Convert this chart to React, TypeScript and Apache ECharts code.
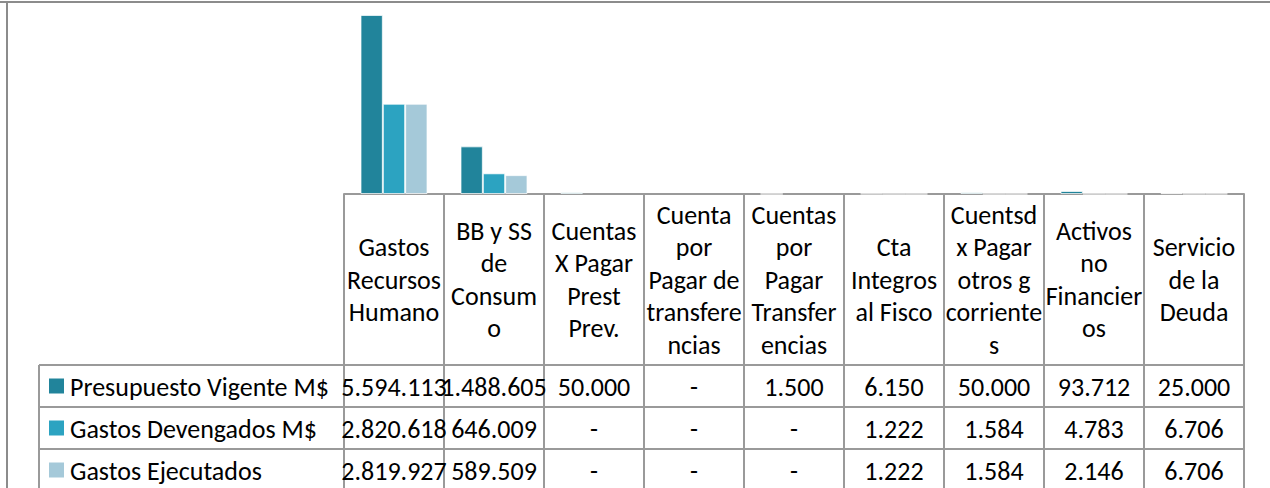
import React, { useEffect, useRef } from "react";
import * as echarts from "echarts";

const categories = [
  "Gastos\nRecursos\nHumano",
  "BB y SS\nde\nConsum\no",
  "Cuentas\nX Pagar\nPrest\nPrev.",
  "Cuenta\npor\nPagar de\ntransfere\nncias",
  "Cuentas\npor\nPagar\nTransfer\nencias",
  "Cta\nIntegros\nal Fisco",
  "Cuentsd\nx Pagar\notros g\ncorriente\ns",
  "Activos\nno\nFinancier\nos",
  "Servicio\nde la\nDeuda",
];

const seriesNames = ["Presupuesto Vigente M$", "Gastos Devengados M$", "Gastos Ejecutados"];

const presupuestoVigente = [5594113, 1488605, 50000, null, 1500, 6150, 50000, 93712, 25000];
const gastosDevengados = [2820618, 646009, null, null, null, 1222, 1584, 4783, 6706];
const gastosEjecutados = [2819927, 589509, null, null, null, 1222, 1584, 2146, 6706];

const seriesColors = ["#21849B", "#2CA3C1", "#A5C9D9"];

const FONT = "Carlito, Calibri, Lato, sans-serif";
const FS = 26;
const W = 1270;
const H = 488;
const GRID_LEFT = 344;
const GRID_RIGHT_X = 1244;
const GRID_TOP = 2;
const AXIS_Y = 194;
const HEADER_BOTTOM = 365;
const ROW_H = 42;
const LEGEND_LEFT = 39;
const LINE_COLOR = "#9a9a9a";

function fmt(v: number | null): string {
  if (v === null || v === undefined) return "-";
  return String(v).replace(/\B(?=(\d{3})+(?!\d))/g, ".");
}

export default function App() {
  const ref = useRef<HTMLDivElement>(null);
  useEffect(() => {
    if (!ref.current) return;
    const chart = echarts.init(ref.current, null, { renderer: "svg" });
    const allData = [presupuestoVigente, gastosDevengados, gastosEjecutados];
    const n = categories.length;
    const colW = (GRID_RIGHT_X - GRID_LEFT) / n;

    const graphics: any[] = [];
    const line = (x1: number, y1: number, x2: number, y2: number, w = 2, c = LINE_COLOR) =>
      graphics.push({
        type: "line",
        shape: { x1, y1, x2, y2 },
        style: { stroke: c, lineWidth: w },
        silent: true,
      });
    // outer border
    line(0, 2, W, 2, 2, "#8c8c8c");
    line(7, 2, 7, H, 2, "#8c8c8c");
    // horizontal table lines
    for (let r = 0; r <= 3; r++) {
      const y = HEADER_BOTTOM + r * ROW_H;
      line(LEGEND_LEFT, y, GRID_RIGHT_X, y);
    }
    // vertical legend column line
    line(LEGEND_LEFT, HEADER_BOTTOM, LEGEND_LEFT, H);
    // category column lines
    for (let i = 0; i <= n; i++) {
      const x = GRID_LEFT + i * colW;
      line(x, AXIS_Y, x, H);
    }
    // legend keys inside the data table
    seriesNames.forEach((name, s) => {
      const cy = HEADER_BOTTOM + s * ROW_H + ROW_H / 2;
      graphics.push({
        type: "rect",
        shape: { x: 49, y: cy - 7.5, width: 15, height: 15 },
        style: { fill: seriesColors[s] },
        silent: true,
      });
      graphics.push({
        type: "text",
        x: 70,
        y: cy + 1,
        silent: true,
        style: {
          text: name,
          fill: "#000",
          font: `${FS}px ${FONT}`,
          textAlign: "left",
          textVerticalAlign: "middle",
        },
      });
    });
    // values
    allData.forEach((arr, s) => {
      arr.forEach((v, i) => {
        graphics.push({
          type: "text",
          x: GRID_LEFT + (i + 0.5) * colW,
          y: HEADER_BOTTOM + s * ROW_H + ROW_H / 2 + 1,
          silent: true,
          style: {
            text: fmt(v),
            fill: "#000",
            font: `${FS}px ${FONT}`,
            textAlign: "center",
            textVerticalAlign: "middle",
          },
        });
      });
    });

    chart.setOption({
      animation: false,
      backgroundColor: "#ffffff",
      grid: {
        left: GRID_LEFT,
        right: W - GRID_RIGHT_X,
        top: GRID_TOP,
        bottom: H - AXIS_Y,
        containLabel: false,
      },
      xAxis: {
        type: "category",
        data: categories,
        axisLine: { show: true, lineStyle: { color: LINE_COLOR, width: 2 } },
        axisTick: { show: false },
        axisLabel: {
          interval: 0,
          margin: (HEADER_BOTTOM - AXIS_Y) / 2,
          verticalAlign: "middle",
          align: "center",
          lineHeight: 32.5,
          fontSize: FS,
          fontFamily: FONT,
          color: "#000",
        },
      },
      yAxis: {
        type: "value",
        min: 0,
        max: 6000000,
        show: false,
        splitLine: { show: false },
      },
      series: allData.map((arr, s) => ({
        name: seriesNames[s],
        type: "bar",
        data: arr,
        barGap: "0%",
        barCategoryGap: "33%",
        itemStyle: {
          color: seriesColors[s],
          borderColor: "rgba(255,255,255,0.7)",
          borderWidth: 1,
        },
      })),
      graphic: graphics,
    });
    return () => chart.dispose();
  }, []);
  return (
    <div
      ref={ref}
      style={{ position: "fixed", left: 0, top: 0, width: W, height: H }}
    />
  );
}
